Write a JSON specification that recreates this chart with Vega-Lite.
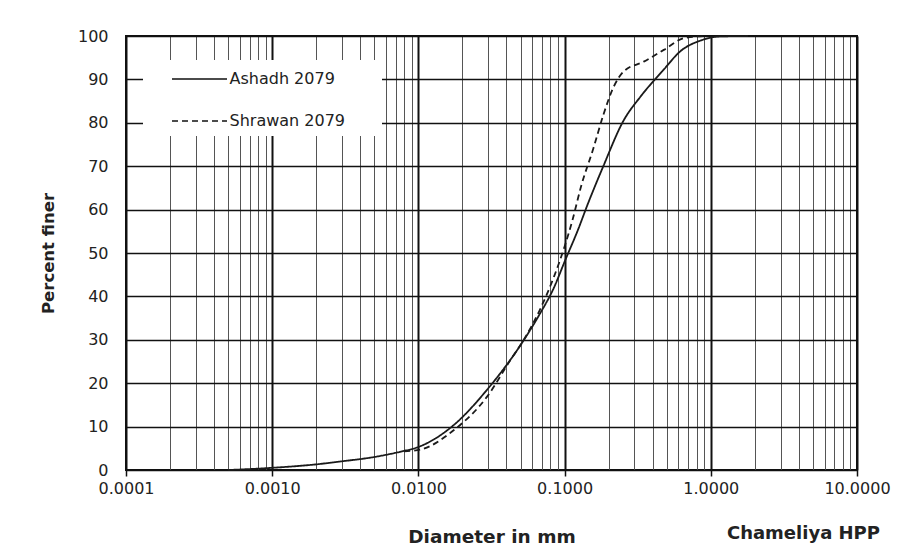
{
  "$schema": "https://vega.github.io/schema/vega-lite/v6.json",
  "width": 731,
  "height": 434,
  "autosize": {"type": "none"},
  "padding": {"left": 126, "top": 36, "right": 56, "bottom": 89},
  "background": "white",
  "title": {
    "text": "Chameliya HPP",
    "orient": "bottom",
    "anchor": "end",
    "frame": "group",
    "fontSize": 18,
    "fontWeight": "bold",
    "font": "DejaVu Sans",
    "color": "#222",
    "offset": -21,
    "dx": 23
  },
  "config": {
    "view": {"stroke": "#111", "strokeWidth": 2},
    "font": "DejaVu Sans"
  },
  "data": {
    "values": [
      {"d": 0.0005, "p": 0, "s": "Ashadh 2079"},
      {"d": 0.001, "p": 0.5, "s": "Ashadh 2079"},
      {"d": 0.002, "p": 1.3, "s": "Ashadh 2079"},
      {"d": 0.003, "p": 2.0, "s": "Ashadh 2079"},
      {"d": 0.005, "p": 3.0, "s": "Ashadh 2079"},
      {"d": 0.0075, "p": 4.2, "s": "Ashadh 2079"},
      {"d": 0.01, "p": 5.3, "s": "Ashadh 2079"},
      {"d": 0.0175, "p": 10.4, "s": "Ashadh 2079"},
      {"d": 0.0295, "p": 18.5, "s": "Ashadh 2079"},
      {"d": 0.05, "p": 28.8, "s": "Ashadh 2079"},
      {"d": 0.0667, "p": 35.6, "s": "Ashadh 2079"},
      {"d": 0.0845, "p": 42, "s": "Ashadh 2079"},
      {"d": 0.1, "p": 48, "s": "Ashadh 2079"},
      {"d": 0.124, "p": 55.5, "s": "Ashadh 2079"},
      {"d": 0.143, "p": 61, "s": "Ashadh 2079"},
      {"d": 0.184, "p": 70, "s": "Ashadh 2079"},
      {"d": 0.253, "p": 80.5, "s": "Ashadh 2079"},
      {"d": 0.33, "p": 86, "s": "Ashadh 2079"},
      {"d": 0.475, "p": 92.2, "s": "Ashadh 2079"},
      {"d": 0.62, "p": 96.5, "s": "Ashadh 2079"},
      {"d": 0.86, "p": 99, "s": "Ashadh 2079"},
      {"d": 1.15, "p": 99.9, "s": "Ashadh 2079"},
      {"d": 1.8, "p": 100, "s": "Ashadh 2079"},
      {"d": 0.008, "p": 4.3, "s": "Shrawan 2079"},
      {"d": 0.0103, "p": 4.7, "s": "Shrawan 2079"},
      {"d": 0.0175, "p": 9.2, "s": "Shrawan 2079"},
      {"d": 0.0295, "p": 16.9, "s": "Shrawan 2079"},
      {"d": 0.0427, "p": 25.4, "s": "Shrawan 2079"},
      {"d": 0.0526, "p": 30, "s": "Shrawan 2079"},
      {"d": 0.0686, "p": 37.3, "s": "Shrawan 2079"},
      {"d": 0.0845, "p": 44.5, "s": "Shrawan 2079"},
      {"d": 0.1, "p": 51.5, "s": "Shrawan 2079"},
      {"d": 0.113, "p": 57.5, "s": "Shrawan 2079"},
      {"d": 0.13, "p": 65.5, "s": "Shrawan 2079"},
      {"d": 0.157, "p": 74, "s": "Shrawan 2079"},
      {"d": 0.184, "p": 81.8, "s": "Shrawan 2079"},
      {"d": 0.216, "p": 88.2, "s": "Shrawan 2079"},
      {"d": 0.253, "p": 91.8, "s": "Shrawan 2079"},
      {"d": 0.348, "p": 94.1, "s": "Shrawan 2079"},
      {"d": 0.477, "p": 96.8, "s": "Shrawan 2079"},
      {"d": 0.655, "p": 99.5, "s": "Shrawan 2079"},
      {"d": 0.9, "p": 100, "s": "Shrawan 2079"}
    ]
  },
  "mark": {"type": "line", "interpolate": "monotone", "color": "#1a1a1a", "strokeWidth": 1.8},
  "encoding": {
    "x": {
      "field": "d",
      "type": "quantitative",
      "scale": {"type": "log", "domain": [0.0001, 10], "nice": false},
      "axis": {
        "title": "Diameter in mm",
        "titleFont": "DejaVu Sans",
        "titleFontSize": 18.5,
        "titleFontWeight": "bold",
        "titleColor": "#222",
        "titlePadding": 31,
        "values": [0.0001,0.0002,0.0003,0.0004,0.0005,0.0006,0.0007,0.0008,0.0009,
                   0.001,0.002,0.003,0.004,0.005,0.006,0.007,0.008,0.009,
                   0.01,0.02,0.03,0.04,0.05,0.06,0.07,0.08,0.09,
                   0.1,0.2,0.3,0.4,0.5,0.6,0.7,0.8,0.9,
                   1,2,3,4,5,6,7,8,9,10],
        "labelExpr": "abs(log(datum.value)/LN10 - round(log(datum.value)/LN10)) < 0.01 ? format(datum.value, '.4f') : ''",
        "labelFont": "DejaVu Sans",
        "labelFontSize": 16,
        "labelColor": "#222",
        "labelPadding": 4,
        "labelFlush": false,
        "labelOverlap": false,
        "domain": false,
        "tickColor": "#111",
        "tickWidth": 1.5,
        "tickSize": {"condition": {"test": "abs(log(datum.value)/LN10 - round(log(datum.value)/LN10)) < 0.01", "value": 6}, "value": 0},
        "grid": true,
        "gridColor": {"condition": {"test": "abs(log(datum.value)/LN10 - round(log(datum.value)/LN10)) < 0.01", "value": "#111"}, "value": "#555"},
        "gridWidth": {"condition": {"test": "abs(log(datum.value)/LN10 - round(log(datum.value)/LN10)) < 0.01", "value": 2}, "value": 1},
        "gridOpacity": 1
      }
    },
    "y": {
      "field": "p",
      "type": "quantitative",
      "scale": {"domain": [0, 100], "nice": false},
      "axis": {
        "title": "Percent finer",
        "titleFont": "DejaVu Sans",
        "titleFontSize": 16.5,
        "titleFontWeight": "bold",
        "titleColor": "#222",
        "titlePadding": 21,
        "values": [0,10,20,30,40,50,60,70,80,90,100],
        "labelFont": "DejaVu Sans",
        "labelFontSize": 16,
        "labelColor": "#222",
        "labelPadding": 18,
        "ticks": false,
        "domain": false,
        "grid": true,
        "gridColor": "#111",
        "gridWidth": 1.6,
        "gridOpacity": 1
      }
    },
    "strokeDash": {
      "field": "s",
      "type": "nominal",
      "scale": {"domain": ["Ashadh 2079", "Shrawan 2079"], "range": [[1, 0], [6, 4]]},
      "legend": {
        "title": null,
        "orient": "none",
        "legendX": 17,
        "legendY": 24,
        "fillColor": "white",
        "padding": 7,
        "symbolType": "M-2.5,0H2.5M15.6,0",
        "symbolSize": 484,
        "symbolStrokeWidth": 1.5,
        "symbolStrokeColor": "#111",
        "symbolOffset": 37.5,
        "labelFont": "DejaVu Sans",
        "labelFontSize": 16,
        "labelColor": "#222",
        "labelOffset": 18,
        "rowPadding": 22
      }
    }
  }
}
